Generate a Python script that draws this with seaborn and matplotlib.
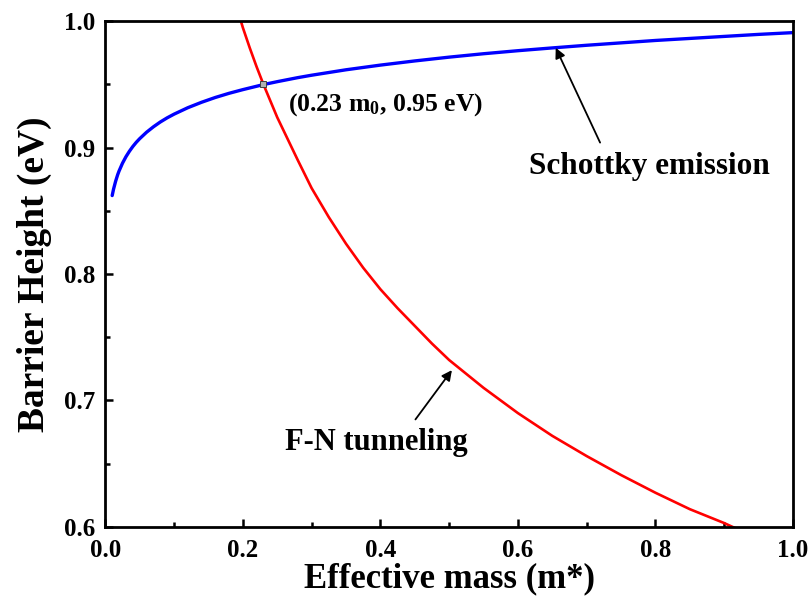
import numpy as np
import pandas as pd
import matplotlib
matplotlib.use("Agg")
import matplotlib.pyplot as plt
from matplotlib.ticker import MultipleLocator
import seaborn as sns

# datos
mass_schottky = [0.010, 0.012, 0.015, 0.018, 0.02, 0.025, 0.03, 0.035, 0.04, 0.045, 0.05,
                 0.06, 0.07, 0.08, 0.09, 0.10, 0.12, 0.14, 0.16, 0.18, 0.20, 0.23, 0.25,
                 0.28, 0.30, 0.35, 0.40, 0.45, 0.50, 0.55, 0.60, 0.65, 0.70, 0.75, 0.80,
                 0.85, 0.90, 0.95, 1.00]
barrier_schottky = [0.8621, 0.8672, 0.8734, 0.8786, 0.8815, 0.8877, 0.8928, 0.8971, 0.9009, 0.9042, 0.9071,
                    0.9122, 0.9165, 0.9203, 0.9236, 0.9265, 0.9316, 0.9359, 0.9397, 0.9430, 0.9459, 0.9499, 0.9522,
                    0.9554, 0.9573, 0.9616, 0.9653, 0.9686, 0.9716, 0.9743, 0.9767, 0.9789, 0.9810, 0.9829, 0.9848,
                    0.9864, 0.9880, 0.9896, 0.9910]

mass_fn = [0.19, 0.20, 0.21, 0.22, 0.23, 0.24, 0.25, 0.265, 0.28, 0.30, 0.325, 0.35, 0.375,
           0.40, 0.425, 0.45, 0.475, 0.50, 0.55, 0.60, 0.65, 0.70, 0.75, 0.80, 0.85, 0.90, 0.92]
barrier_fn = [1.013, 0.995, 0.979, 0.964, 0.950, 0.937, 0.924, 0.907, 0.890, 0.868, 0.845, 0.824, 0.805,
              0.788, 0.773, 0.759, 0.745, 0.732, 0.710, 0.690, 0.672, 0.656, 0.641, 0.627, 0.614, 0.603, 0.598]

cross_mass = [0.23]
cross_barrier = [0.95]

df_s = pd.DataFrame({"m": mass_schottky, "phi": barrier_schottky})
df_fn = pd.DataFrame({"m": mass_fn, "phi": barrier_fn})

sns.set_theme(style="ticks")
plt.rcParams['font.family'] = ['Liberation Serif', 'DejaVu Serif']
plt.rcParams['font.weight'] = 'bold'
plt.rcParams['text.color'] = 'black'
plt.rcParams['axes.labelcolor'] = 'black'
plt.rcParams['xtick.color'] = 'black'
plt.rcParams['ytick.color'] = 'black'
plt.rcParams['axes.edgecolor'] = 'black'
plt.rcParams['mathtext.fontset'] = 'custom'
plt.rcParams['mathtext.rm'] = 'Liberation Serif:bold'
plt.rcParams['mathtext.it'] = 'Liberation Serif:bold'
plt.rcParams['mathtext.bf'] = 'Liberation Serif:bold'

fig = plt.figure(figsize=(8.1, 6.07), dpi=100)
ax = fig.add_axes([0.130, 0.132, 0.849, 0.833])

sns.lineplot(data=df_s, x="m", y="phi", color="#0000ff", lw=2.4, sort=False, ax=ax)
sns.lineplot(data=df_fn, x="m", y="phi", color="#ff0000", lw=1.9, sort=False, ax=ax)
ax.plot(cross_mass, cross_barrier, marker="s", ms=4.5, color="#b0b0b0",
        mec="#404040", mew=0.7, ls="none", zorder=5)

ax.set_xlim(0, 1.0)
ax.set_ylim(0.6, 1.0)
ax.xaxis.set_major_locator(MultipleLocator(0.2))
ax.xaxis.set_minor_locator(MultipleLocator(0.1))
ax.yaxis.set_major_locator(MultipleLocator(0.1))
ax.yaxis.set_minor_locator(MultipleLocator(0.05))
ax.tick_params(which="major", direction="in", length=6, width=1.8, labelsize=18,
               colors="black")
ax.tick_params(axis="x", which="major", pad=9)
ax.tick_params(axis="y", which="major", pad=7)
ax.tick_params(which="minor", direction="in", length=3.5, width=1.8, colors="black")
for lbl in ax.get_xticklabels() + ax.get_yticklabels():
    lbl.set_fontweight("bold")
for sp in ax.spines.values():
    sp.set_linewidth(2.0)
    sp.set_color("black")
    sp.set_visible(True)

ax.set_xlabel("Effective mass (m*)", fontsize=25, fontweight="bold", labelpad=0)
ax.set_ylabel("Barrier Height (eV)", fontsize=27, fontweight="bold", labelpad=9)

ax.text(0.266, 0.934, "(0.23 m$_0$, 0.95 eV)", fontsize=18.5, fontweight="bold", va="center")

ax.text(0.791, 0.885, "Schottky emission", fontsize=22.5, fontweight="bold",
        ha="center", va="center")
ax.annotate("", xy=(0.655, 0.979), xytext=(0.7195, 0.904),
            arrowprops=dict(arrowstyle="-|>", color="black", lw=1.3,
                            mutation_scale=15, shrinkA=0, shrinkB=0))
ax.text(0.394, 0.667, "F-N tunneling", fontsize=22, fontweight="bold",
        ha="center", va="center")
ax.annotate("", xy=(0.504, 0.724), xytext=(0.451, 0.685),
            arrowprops=dict(arrowstyle="-|>", color="black", lw=1.3,
                            mutation_scale=15, shrinkA=0, shrinkB=0))

fig.savefig("out.png", dpi=100)
